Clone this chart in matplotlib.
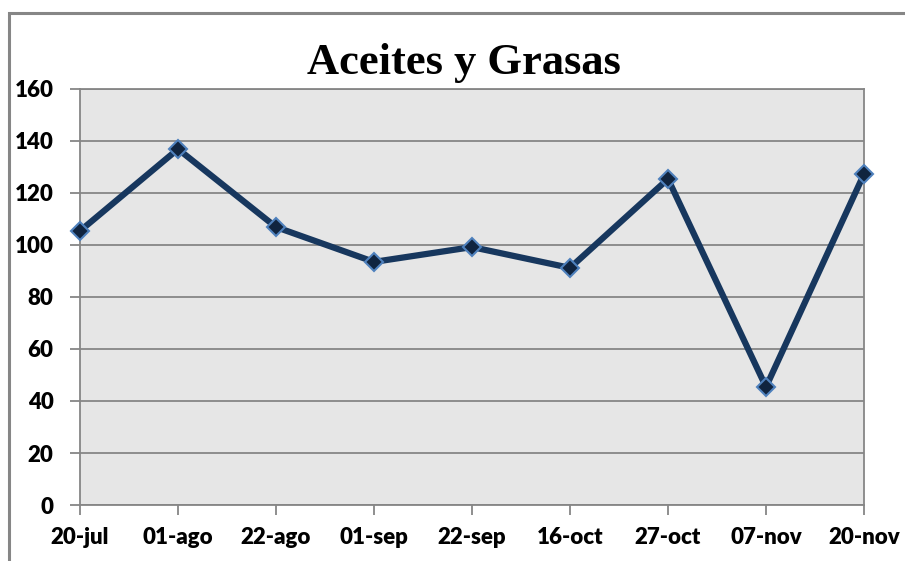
import matplotlib.pyplot as plt
from matplotlib.patches import Rectangle

# data
fechas = ['20-jul', '01-ago', '22-ago', '01-sep', '22-sep', '16-oct', '27-oct', '07-nov', '20-nov']
valores = [105.4, 136.9, 106.9, 93.5, 99.2, 91.2, 125.4, 45.4, 127.3]
y_ticks = [0, 20, 40, 60, 80, 100, 120, 140, 160]
titulo = 'Aceites y Grasas'

gris = '#868686'

fig = plt.figure(figsize=(9.05, 5.61), dpi=100)
ax = fig.add_axes([80 / 905, 1 - 505 / 561, (864 - 80) / 905, (505 - 89) / 561])

# chart frame, cut off at right and bottom like the reference
fig.patches.append(Rectangle((9 / 905, -0.1), 1.2, 1 - 13 / 561 + 0.1,
                             transform=fig.transFigure, fill=False,
                             edgecolor=gris, lw=2.2, clip_on=False))

x = list(range(len(fechas)))
ax.plot(x, valores, color='#17375E', lw=4.5, zorder=3, clip_on=False,
        marker='D', markersize=9.5, markerfacecolor='#10243F',
        markeredgecolor='#4F81BD', markeredgewidth=1.5)

ax.set_facecolor('#E6E6E6')
ax.set_xlim(0, len(fechas) - 1)
ax.set_ylim(0, 160)
ax.set_yticks(y_ticks)
ax.set_xticks(x)
ax.set_xticklabels(fechas)
ax.yaxis.grid(True, color=gris, lw=1.3)
ax.set_axisbelow(True)

for s in ax.spines.values():
    s.set_color(gris)
    s.set_linewidth(1.3)

ax.tick_params(axis='both', direction='out', length=7, width=1.3, color=gris)
ax.tick_params(axis='x', pad=9)
ax.tick_params(axis='y', pad=12)
for lab in ax.get_xticklabels() + ax.get_yticklabels():
    lab.set_fontfamily('Lato')
    lab.set_fontweight('heavy')
    lab.set_fontsize(16)

fig.text(464 / 905, 1 - 63 / 561, titulo, ha='center', va='center',
         fontfamily='Liberation Serif', fontweight='bold', fontsize=32)

plt.savefig('out.png', dpi=100)
